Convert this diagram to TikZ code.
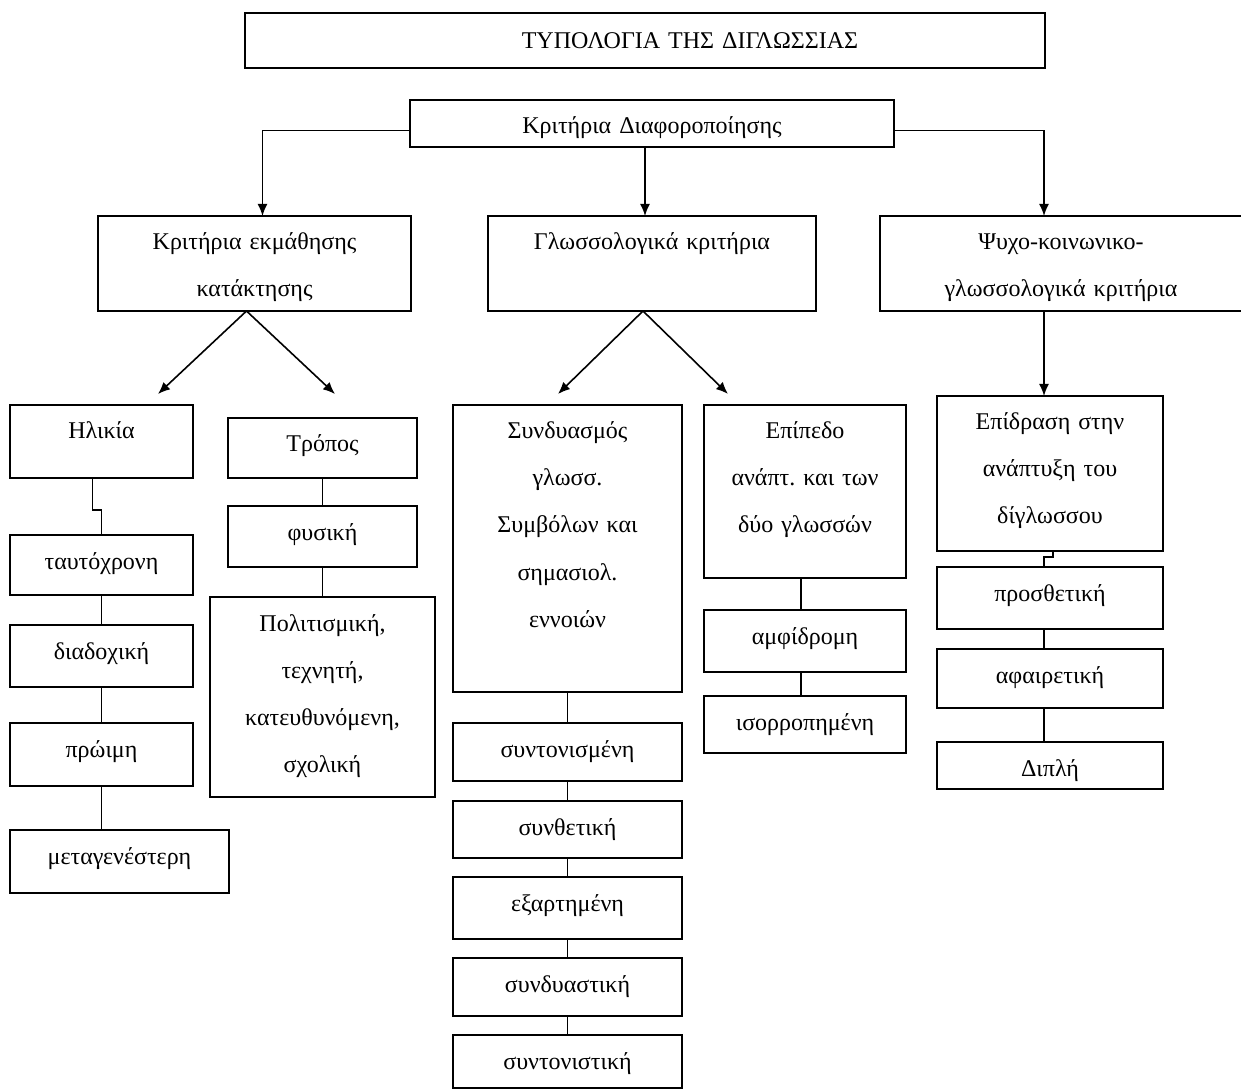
\documentclass[tikz,border=0pt]{standalone}
\usepackage{fontspec}
\setmainfont{Liberation Serif}
\usetikzlibrary{arrows.meta,positioning}

\begin{document}
\begin{tikzpicture}[x=0.5pt,y=-0.5pt,line width=0.8pt,>={Latex[length=6pt,width=5pt]}]
    \tikzstyle{format}=[rectangle,draw,fill=white,inner sep=0pt,outer sep=0pt,align=center,text height=17pt,font=\fontsize{12pt}{23.5pt}\selectfont\frenchspacing]  % box, text set from the top
    \tikzstyle{level}=[format,anchor=north west]  % first box of a column
    \path[use as bounding box,fill=white] (0,0) rectangle (1241,1090);

    % top
    \node[level,text width=400pt,text height=18pt,text depth=9.5pt](title) at (245,13){\hspace*{45pt}ΤΥΠΟΛΟΓΙΑ ΤΗΣ ΔΙΓΛΩΣΣΙΑΣ};
    \node[level,text width=242pt,text depth=6.5pt](crit) at (410,100){Κριτήρια Διαφοροποίησης};
    \node[level,text width=156.5pt,text depth=30.5pt](ekm) at (98,216){Κριτήρια εκμάθησης\\κατάκτησης};
    \node[level,text width=164pt,text depth=30.5pt](gl) at (488,216){Γλωσσολογικά κριτήρια};
    \node[level,text width=181pt,text depth=30.5pt](psy) at (880,216){Ψυχο-κοινωνικο-\\γλωσσολογικά κριτήρια};

    % age
    \node[level,text width=91.5pt,text depth=19.5pt](ilikia) at (10,405){Ηλικία};
    \node[format,text width=91.5pt,text depth=13pt,below=28.5pt of ilikia](taft){ταυτόχρονη};
    \node[format,text width=91.5pt,text depth=14pt,below=15pt of taft](diad){διαδοχική};
    \node[format,text width=91.5pt,text depth=14.5pt,below=18pt of diad](proim){πρώιμη};
    \node[format,text width=109.5pt,text depth=14.5pt,below=22pt of proim.south west,anchor=north west](metag){μεταγενέστερη};

    % manner
    \node[level,text width=94.5pt,text depth=13pt](tropos) at (228,418){Τρόπος};
    \node[format,text width=94.5pt,text depth=13.5pt,below=14pt of tropos](fysiki){φυσική};
    \node[format,text width=112.5pt,text depth=83pt,below=15pt of fysiki](polit){Πολιτισμική,\\τεχνητή,\\κατευθυνόμενη,\\σχολική};

    % symbols
    \node[level,text width=114.5pt,text depth=126.5pt](synd) at (453,405){Συνδυασμός\\γλωσσ.\\Συμβόλων και\\σημασιολ.\\εννοιών};
    \node[format,text width=114.5pt,text depth=12pt,below=15.5pt of synd](synton){συντονισμένη};
    \node[format,text width=114.5pt,text depth=11.5pt,below=10pt of synton](synth){συνθετική};
    \node[format,text width=114.5pt,text depth=14pt,below=9.5pt of synth](exart){εξαρτημένη};
    \node[format,text width=114.5pt,text depth=12pt,below=9.5pt of exart](syndy){συνδυαστική};
    \node[format,text width=114.5pt,text depth=9.5pt,below=9.5pt of syndy](syntonist){συντονιστική};

    % level of development
    \node[level,text width=101pt,text depth=69.5pt](epip) at (704,405){Επίπεδο\\ανάπτ. και των\\δύο γλωσσών};
    \node[format,text width=101pt,text depth=14pt,below=16pt of epip](amfi){αμφίδρομη};
    \node[format,text width=101pt,text depth=11.5pt,below=12pt of amfi](isor){ισορροπημένη};

    % effect
    \node[level,text width=113pt,text depth=60.5pt](epidr) at (937,396){Επίδραση στην\\ανάπτυξη του\\δίγλωσσου};
    \node[format,text width=113pt,text depth=14pt,below=8pt of epidr](prosth){προσθετική};
    \node[format,text width=113pt,text depth=12.5pt,below=10pt of prosth](afair){αφαιρετική};
    \node[format,text width=113pt,text depth=6.5pt,below=17pt of afair](dipli){Διπλή};

    % arrow ends above the boxes
    \coordinate (t1) at (158,394);
    \coordinate (t2) at (335,394);
    \coordinate (t3) at (558,394);
    \coordinate (t4) at (728,394);

    % lines
    \draw[->]([yshift=-3.5pt]crit.west) -| ([xshift=4pt]ekm.north);
    \draw[->]([xshift=-3.5pt]crit.south) -- ([xshift=-3.5pt]gl.north);
    \draw[->]([yshift=-3.5pt]crit.east) -| ([xshift=-8.5pt]psy.north);
    \draw[->]([xshift=-4pt]ekm.south) -- (t1);
    \draw[->]([xshift=-4pt]ekm.south) -- (t2);
    \draw[->]([xshift=-4.5pt]gl.south) -- (t3);
    \draw[->]([xshift=-4.5pt]gl.south) -- (t4);
    \draw[->]([xshift=-3pt]epidr.north |- psy.south) -- ([xshift=-3pt]epidr.north);

    \draw([xshift=-4.5pt]ilikia.south) -- ++(0,32) -| (taft.north);
    \draw(taft)--(diad);
    \draw(diad)--(proim);
    \draw(proim.south)--(proim.south |- metag.north);
    \draw(tropos)--(fysiki);
    \draw(fysiki.south)--(fysiki.south |- polit.north);
    \draw(synd)--(synton);
    \draw(synton)--(synth);
    \draw(synth)--(exart);
    \draw(exart)--(syndy);
    \draw(syndy)--(syntonist);
    \draw([xshift=-2pt]epip.south)--([xshift=-2pt]amfi.north);
    \draw([xshift=-2pt]amfi.south)--([xshift=-2pt]isor.north);
    \draw([xshift=1.5pt]epidr.south) -- ++(0,6) -| ([xshift=-3pt]prosth.north);
    \draw([xshift=-3pt]prosth.south)--([xshift=-3pt]afair.north);
    \draw([xshift=-3pt]afair.south)--([xshift=-3pt]dipli.north);
\end{tikzpicture}
\end{document}
